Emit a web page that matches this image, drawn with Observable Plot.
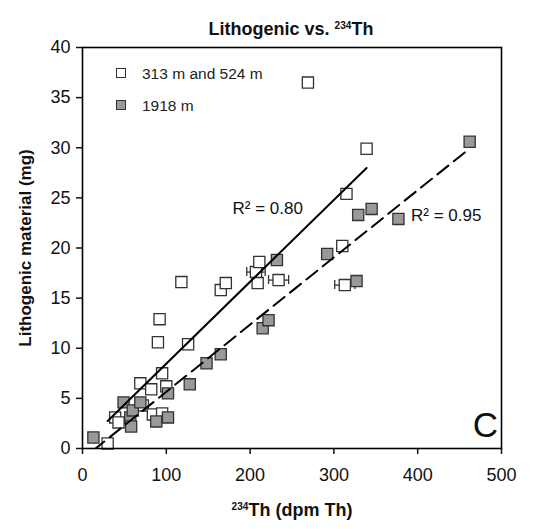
<!DOCTYPE html>
<html><head><meta charset="utf-8">
<script src="https://cdn.jsdelivr.net/npm/d3@7"></script>
<script src="https://cdn.jsdelivr.net/npm/@observablehq/plot@0.6"></script>
<style>
body{margin:0;background:#fff;font-family:"Liberation Sans",Arial,sans-serif;}
#wrap{position:relative;width:556px;height:529px;overflow:hidden;}
#chart{position:absolute;left:0;top:0;}
.t{position:absolute;font-weight:bold;color:#111;white-space:nowrap;line-height:1;transform:translateX(-50%);}
.t sup{font-size:0.56em;vertical-align:0.55em;line-height:0;}
.lg{position:absolute;color:#222;font-size:15.5px;line-height:1;white-space:nowrap;}
.sq{position:absolute;width:8px;height:8px;border:1.3px solid #333;}
</style></head><body>
<div id="wrap">
<div id="chart"></div>
<div class="t" style="left:291px;top:20px;font-size:18px">Lithogenic vs. <sup>234</sup>Th</div>
<div class="t" style="left:292px;top:501px;font-size:18px"><sup>234</sup>Th (dpm Th)</div>
<div id="legend"></div>
</div>
<script>
// 313 m and 524 m (open squares)
const shallowTh   = [30, 39, 43, 72, 69, 82, 95, 100, 84, 95, 90, 92, 126, 118, 165, 171, 207, 211, 209, 234, 313, 310, 315, 339, 269];
const shallowLith = [0.5, 3.1, 2.6, 4.3, 6.5, 5.9, 7.5, 6.2, 3.4, 3.5, 10.6, 12.9, 10.4, 16.6, 15.8, 16.5, 17.6, 18.6, 16.5, 16.8, 16.3, 20.2, 25.4, 29.9, 36.5];
// 1918 m (grey squares)
const deepTh   = [13, 49, 57, 58, 60, 69, 88, 102, 102, 128, 148, 165, 215, 222, 232, 292, 327, 329, 345, 377, 462];
const deepLith = [1.1, 4.6, 3.1, 2.2, 3.8, 4.6, 2.7, 3.1, 5.5, 6.4, 8.5, 9.4, 12.0, 12.8, 18.8, 19.4, 16.7, 23.3, 23.9, 22.9, 30.6];
// horizontal error bars (open squares)
const errTh   = [207, 234, 313];
const errLith = [17.6, 16.8, 16.3];
const errHalf = [11, 12, 12];
// ticks and labels
const xTicks = [0, 100, 200, 300, 400, 500];
const yTicks = [0, 5, 10, 15, 20, 25, 30, 35, 40];
const seriesNames = ["313 m and 524 m", "1918 m"];
const r2Labels = ["R\u00B2 = 0.80", "R\u00B2 = 0.95"];
const r2Th = [221, 434];
const r2Lith = [23.9, 23.2];
const yTitle = "Lithogenic material (mg)";
const panelLetter = "C";

const shallow = shallowTh.map((x, i) => ({x, y: shallowLith[i]}));
const deep = deepTh.map((x, i) => ({x, y: deepLith[i]}));
const errs = errTh.map((x, i) => ({x1: x - errHalf[i], x2: x + errHalf[i], y: errLith[i]}));
const r2 = r2Labels.map((t, i) => ({t, x: r2Th[i], y: r2Lith[i]}));

const fillWhite = "#ffffff", fillGrey = "#999999", edge = "#333333";

const chart = Plot.plot({
  width: 556, height: 529,
  marginTop: 47, marginRight: 55, marginBottom: 81, marginLeft: 82,
  x: {domain: [0, 500]},
  y: {domain: [0, 40]},
  style: {fontFamily: "'Liberation Sans', Arial, sans-serif", fontSize: "18px", color: "#111", background: "white", overflow: "visible"},
  marks: [
    Plot.ruleY(errs, {x1: "x1", x2: "x2", y: "y", stroke: edge, strokeWidth: 1.3}),
    Plot.ruleX(errs, {x: "x1", y1: d => d.y - 0.45, y2: d => d.y + 0.45, stroke: edge, strokeWidth: 1.3}),
    Plot.ruleX(errs, {x: "x2", y1: d => d.y - 0.45, y2: d => d.y + 0.45, stroke: edge, strokeWidth: 1.3}),
    Plot.dot(shallow, {x: "x", y: "y", symbol: "square", r: 6.3, fill: fillWhite, stroke: edge, strokeWidth: 1.3}),
    Plot.dot(deep, {x: "x", y: "y", symbol: "square", r: 6.3, fill: fillGrey, stroke: edge, strokeWidth: 1.3}),
    Plot.linearRegressionY(shallow, {x: "x", y: "y", stroke: "black", strokeWidth: 2, ci: 0, clip: true}),
    Plot.linearRegressionY(deep, {x: "x", y: "y", stroke: "black", strokeWidth: 2, strokeDasharray: "14,7", ci: 0, clip: true}),
    Plot.frame({stroke: "black", strokeWidth: 1.6}),
    Plot.axisX({ticks: xTicks, tickSize: 6, tickPadding: 14, label: null, strokeWidth: 1.5}),
    Plot.axisY({ticks: yTicks, tickSize: 6, tickPadding: 6, label: null, strokeWidth: 1.5}),
    Plot.text(r2, {x: "x", y: "y", text: "t", fontSize: 17, fill: "#111"}),
    Plot.text([yTitle], {frameAnchor: "left", dx: -57, rotate: -90, textAnchor: "middle", lineAnchor: "middle", fontSize: 17, fontWeight: "bold", fill: "#111"}),
    Plot.text([panelLetter], {frameAnchor: "bottom-right", dx: -16, dy: -23, lineAnchor: "middle", textAnchor: "middle", fontSize: 35, fill: "#111"})
  ]
});
document.getElementById("chart").appendChild(chart);

// legend (HTML overlay inside the plot frame)
const leg = document.getElementById("legend");
const legendFills = [fillWhite, fillGrey];
const legendTop = [73, 105];
seriesNames.forEach((name, i) => {
  const sq = document.createElement("div");
  sq.className = "sq";
  sq.style.left = "116px";
  sq.style.top = (legendTop[i] - 5) + "px";
  sq.style.background = legendFills[i];
  leg.appendChild(sq);
  const tx = document.createElement("div");
  tx.className = "lg";
  tx.style.left = "142px";
  tx.style.top = (legendTop[i] - 7.5) + "px";
  tx.textContent = name;
  leg.appendChild(tx);
});
</script>
</body></html>
